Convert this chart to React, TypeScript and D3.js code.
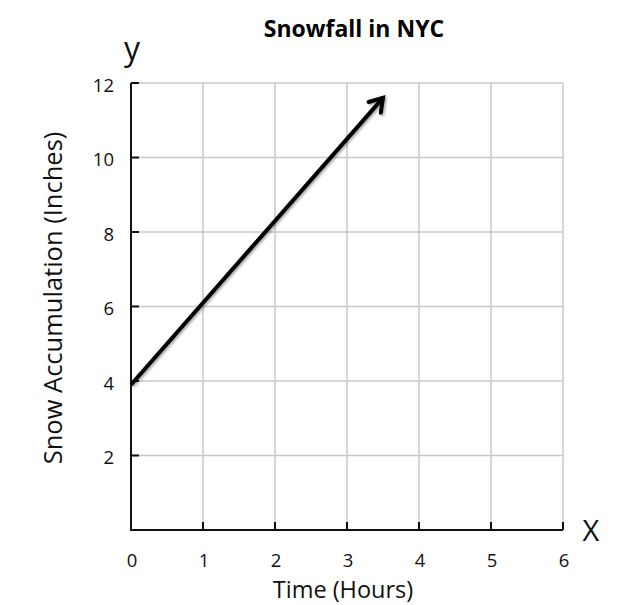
import React, { useEffect, useRef } from 'react';
import * as d3 from 'd3';

const xTicks = [0, 1, 2, 3, 4, 5, 6];
const yTicks = [2, 4, 6, 8, 10, 12];
const lineHours = [0, 3.5];
const lineInches = [3.9, 11.6];

const FONT = '"Open Sans", "Noto Sans", sans-serif';

const App = () => {
  const ref = useRef<SVGSVGElement | null>(null);

  useEffect(() => {
    if (!ref.current) return;
    const svg = d3.select(ref.current);
    svg.selectAll('*').remove();

    const x = d3.scaleLinear().domain([0, 6]).range([131, 563]);
    const y = d3.scaleLinear().domain([0, 12]).range([530, 83]);

    // grid
    const grid = svg.append('g').attr('stroke', '#c8c8c8').attr('stroke-width', 1.5);
    xTicks.slice(1).forEach((t) => {
      grid.append('line').attr('x1', x(t)).attr('x2', x(t)).attr('y1', y(0)).attr('y2', y(12));
    });
    yTicks.forEach((t) => {
      grid.append('line').attr('x1', x(0)).attr('x2', x(6)).attr('y1', y(t)).attr('y2', y(t));
    });

    // axes
    const axes = svg.append('g').attr('stroke', '#111').attr('stroke-width', 2).attr('fill', 'none');
    axes.append('path').attr('d', `M${x(0)},${y(12)}V${y(0)}H${x(6)}`);
    yTicks.forEach((t) => {
      axes.append('line').attr('x1', x(0)).attr('x2', x(0) + 8).attr('y1', y(t)).attr('y2', y(t));
    });
    xTicks.slice(1).forEach((t) => {
      axes.append('line').attr('x1', x(t)).attr('x2', x(t)).attr('y1', y(0)).attr('y2', y(0) - 8);
    });

    // tick labels
    svg
      .append('g')
      .selectAll('text')
      .data(yTicks)
      .join('text')
      .attr('x', 114)
      .attr('y', (d) => y(d) + 4)
      .attr('text-anchor', 'end')
      .attr('dominant-baseline', 'middle')
      .attr('font-family', FONT)
      .attr('font-size', 18.5)
      .attr('fill', '#111')
      .text((d) => d);

    svg
      .append('g')
      .selectAll('text')
      .data(xTicks)
      .join('text')
      .attr('x', (d) => x(d) + 1)
      .attr('y', 567)
      .attr('text-anchor', 'middle')
      .attr('font-family', FONT)
      .attr('font-size', 18.5)
      .attr('fill', '#111')
      .text((d) => d);

    // arrow line
    const defs = svg.append('defs');
    defs
      .append('filter')
      .attr('id', 'shadow')
      .append('feDropShadow')
      .attr('dx', 1.5)
      .attr('dy', 1.5)
      .attr('stdDeviation', 1.2)
      .attr('flood-color', '#000')
      .attr('flood-opacity', 0.35);

    const pts: [number, number][] = lineHours.map((h, i) => [x(h), y(lineInches[i])]);
    const [x0, y0] = pts[0];
    const [x1, y1] = pts[1];
    const ang = Math.atan2(y1 - y0, x1 - x0);
    const head = 15;
    const spread = Math.PI / 5.5;
    const arrow = svg.append('g').attr('filter', 'url(#shadow)');
    arrow
      .append('path')
      .attr('d', d3.line()(pts))
      .attr('stroke', '#000')
      .attr('stroke-width', 4)
      .attr('fill', 'none');
    arrow
      .append('path')
      .attr(
        'd',
        `M${x1 - head * Math.cos(ang - spread)},${y1 - head * Math.sin(ang - spread)}L${x1},${y1}L${
          x1 - head * Math.cos(ang + spread)
        },${y1 - head * Math.sin(ang + spread)}`
      )
      .attr('stroke', '#000')
      .attr('stroke-width', 4)
      .attr('stroke-linejoin', 'miter')
      .attr('stroke-linecap', 'round')
      .attr('fill', 'none');

    // titles and labels
    svg
      .append('text')
      .attr('x', 354)
      .attr('y', 37)
      .attr('text-anchor', 'middle')
      .attr('font-family', FONT)
      .attr('font-weight', 'bold')
      .attr('font-size', 23)
      .attr('fill', '#000')
      .text('Snowfall in NYC');

    svg
      .append('text')
      .attr('x', 132)
      .attr('y', 60)
      .attr('text-anchor', 'middle')
      .attr('font-family', FONT)
      .attr('font-size', 32)
      .attr('fill', '#111')
      .text('y');

    svg
      .append('text')
      .attr('x', 591)
      .attr('y', 541)
      .attr('text-anchor', 'middle')
      .attr('font-family', FONT)
      .attr('font-size', 29)
      .attr('fill', '#111')
      .text('X');

    svg
      .append('text')
      .attr('x', 343)
      .attr('y', 598)
      .attr('text-anchor', 'middle')
      .attr('font-family', FONT)
      .attr('font-size', 23.5)
      .attr('fill', '#111')
      .text('Time (Hours)');

    svg
      .append('text')
      .attr('transform', 'translate(62,298) rotate(-90)')
      .attr('text-anchor', 'middle')
      .attr('font-family', FONT)
      .attr('font-size', 25.5)
      .attr('fill', '#111')
      .text('Snow Accumulation (Inches)');
  }, []);

  return (
    <svg
      ref={ref}
      width={623}
      height={605}
      style={{ position: 'absolute', left: 0, top: 0, background: '#fff' }}
    />
  );
};

export default App;
